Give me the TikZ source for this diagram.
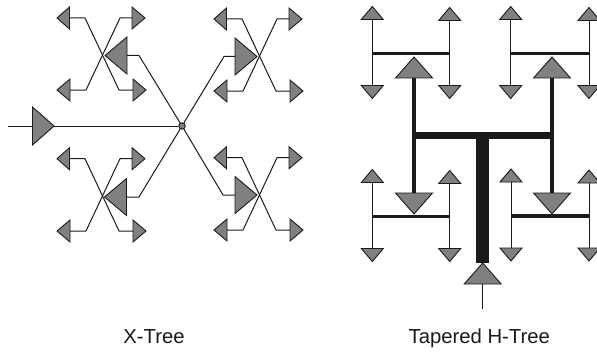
\documentclass[tikz,border=0pt]{standalone}
\usepackage{fontspec}
\setmainfont{Liberation Sans}
\definecolor{ink}{HTML}{1A1A1A}
\definecolor{bufgray}{HTML}{808080}
\tikzset{
  bufshape/.style={draw=ink,fill=bufgray,line width=0.9pt,line join=miter},
  wire/.style={draw=ink,line width=1pt,line join=round},
  hubdot/.style={circle,draw=ink,fill=bufgray,line width=0.9pt,inner sep=0pt,minimum size=6.5pt},
  leafbar/.style={draw=ink,line width=3.2pt},
  midwire/.style={draw=ink,line width=4pt},
  midbar/.style={draw=ink,line width=7pt,shorten <=-2pt,shorten >=-2pt},
  rootstem/.style={draw=ink,line width=13pt},
  caption/.style={font=\fontsize{20.3}{24}\selectfont,text=ink,inner sep=0pt,anchor=base}
}
% name, base x, base y, dir x, dir y, height, half width
\newcommand{\buf}[7]{%
  \coordinate (#1-in) at (#2,#3);
  \coordinate (#1-out) at ({#2+#4*#6},{#3+#5*#6});
  \path[bufshape] ({#2+#5*#7},{#3+#4*#7}) -- (#1-out) -- ({#2-#5*#7},{#3-#4*#7}) -- cycle;
}
% X-tree group: prefix, x offset, upper y, lower y
\newcommand{\xgroup}[4]{%
  \buf{#1ul}{#2+69.5}{#3}{-1}{0}{12.5}{11}
  \buf{#1ur}{#2+132}{#3}{1}{0}{13}{11}
  \buf{#1ll}{#2+70}{#4}{-1}{0}{13}{11}
  \buf{#1lr}{#2+133}{#4}{1}{0}{13}{11}
  \coordinate (#1a) at (#2+85,#3);
  \coordinate (#1b) at (#2+119,#4);
  \coordinate (#1c) at (#2+120,#3);
  \coordinate (#1d) at (#2+86,#4);
  \draw[wire] (#1ul-in) -- (#1a) -- (#1b) -- (#1lr-in);
  \draw[wire] (#1ur-in) -- (#1c) -- (#1d) -- (#1ll-in);
}
% H-tree group: prefix, left x, right x, bar y, offset of the right top leaf
\newcommand{\hgroup}[5]{%
  \buf{#1ul}{#2}{#4-34}{0}{-1}{13}{11}
  \buf{#1ur}{#3}{#4-34+#5}{0}{-1}{13}{11}
  \buf{#1dl}{#2}{#4+32}{0}{1}{13}{11}
  \buf{#1dr}{#3}{#4+32}{0}{1}{13}{11}
  \coordinate (#1jl) at (#2,#4);
  \coordinate (#1jr) at (#3,#4);
  \draw[wire] (#1ul-in) -- (#1dl-in);
  \draw[wire] (#1ur-in) -- (#1dr-in);
  \path[leafbar] (#1jl) -- (#1jr);
}
\begin{document}
\begin{tikzpicture}[x=1pt,y=-1pt]
\useasboundingbox (0,0) rectangle (597,353);
% X-Tree
\coordinate (xin) at (8,126);
\buf{xroot}{32.5}{126}{1}{0}{21.5}{19}
\node[hubdot] (hub) at (182,126) {};
\xgroup{tl}{0}{18}{90}
\xgroup{tr}{157}{19}{91}
\xgroup{bl}{0}{158.7}{231}
\xgroup{br}{157}{157.7}{230}
\buf{xtl}{127}{55.5}{-1}{0}{22}{18.5}
\buf{xtr}{235}{56.5}{1}{0}{22}{18.5}
\buf{xbl}{126.5}{197}{-1}{0}{22}{18.5}
\buf{xbr}{235}{195}{1}{0}{22}{18.5}
\coordinate (tlk) at (139,55.5);
\coordinate (trk) at (224,56.5);
\coordinate (blk) at (139,197);
\coordinate (brk) at (223,195);
\draw[wire] (xin) -- (xroot-in);
\draw[wire] (xroot-out) -- (hub);
\draw[wire] (xtl-in) -- (tlk) -- (hub);
\draw[wire] (xtr-in) -- (trk) -- (hub);
\draw[wire] (xbl-in) -- (blk) -- (hub);
\draw[wire] (xbr-in) -- (brk) -- (hub);
% Tapered H-Tree
\hgroup{a}{372.3}{449.7}{53.5}{1}
\hgroup{b}{510.7}{589}{53.5}{1}
\hgroup{c}{372.3}{449.7}{216.5}{1}
\hgroup{d}{511}{589}{216}{1}
\buf{hta}{414}{78}{0}{-1}{21}{18.5}
\buf{htb}{552}{78}{0}{-1}{21}{18.5}
\buf{hbc}{414}{193}{0}{1}{21}{18.5}
\buf{hbd}{552}{193}{0}{1}{21}{18.5}
\coordinate (hl) at (414,135.5);
\coordinate (hr) at (552,135.5);
\coordinate (hm) at (482.7,135.5);
\buf{hroot}{482.7}{284}{0}{-1}{21}{18.5}
\coordinate (hin) at (482.7,309);
\path[midwire] (hta-in) -- (hbc-in);
\path[midwire] (htb-in) -- (hbd-in);
\path[midbar] (hl) -- (hr);
\path[rootstem] (hm) -- (hroot-out);
\draw[wire] (hroot-in) -- (hin);
% Captions
\node[caption] (xcap) at (154,343) {X-Tree};
\node[caption] (hcap) at (479.3,343) {Tapered H-Tree};
\end{tikzpicture}
\end{document}
